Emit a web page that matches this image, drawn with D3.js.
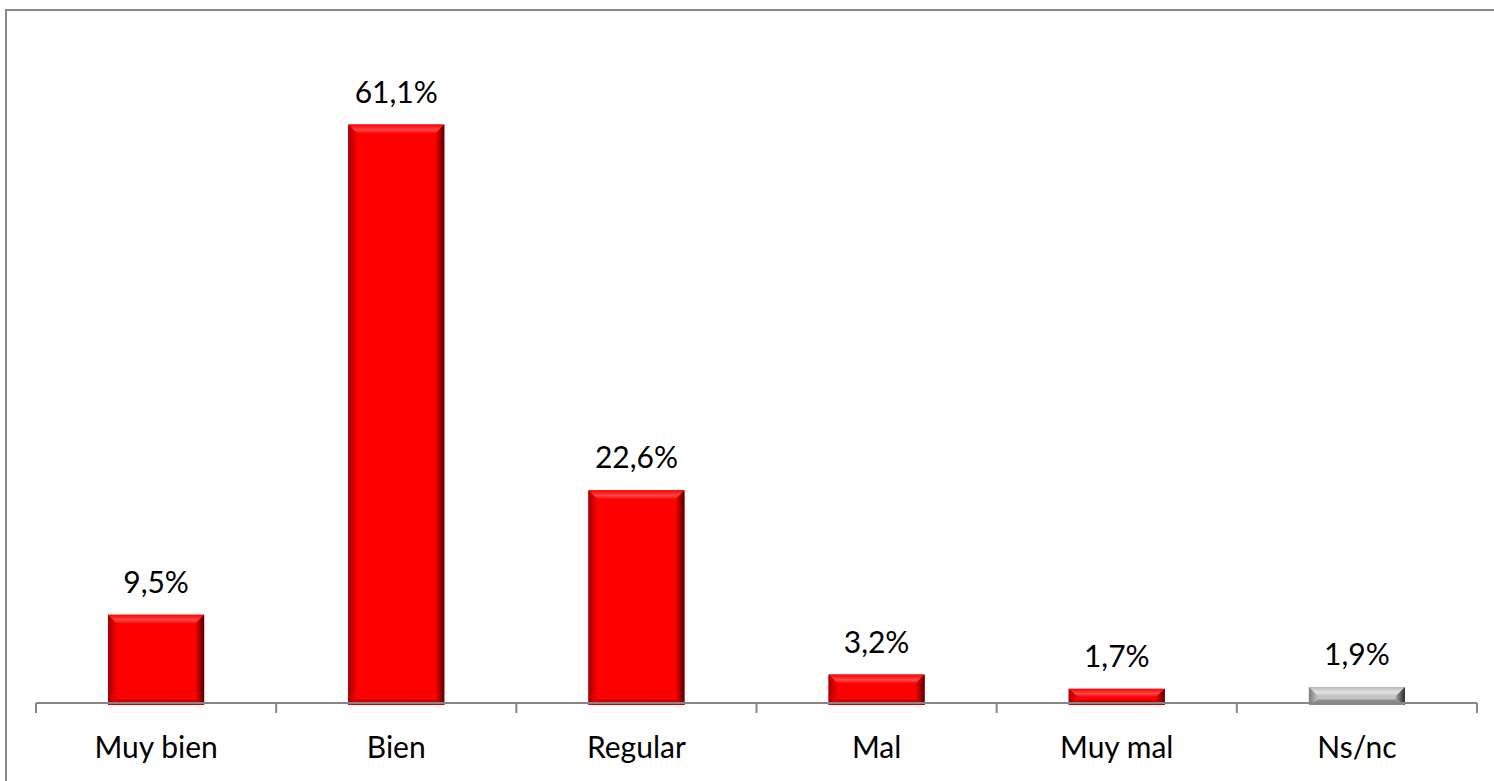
<!DOCTYPE html>
<html>
<head>
<meta charset="utf-8">
<script src="https://cdn.jsdelivr.net/npm/d3@7"></script>
<style>
  html, body { margin: 0; padding: 0; background: #fff; }
  svg { display: block; }
  text { font-family: Lato, "Open Sans", sans-serif; fill: #000; }
</style>
</head>
<body>
<svg id="chart" width="1494" height="781"></svg>
<script>
// Survey answers and their shares (%)
const categories = ["Muy bien", "Bien", "Regular", "Mal", "Muy mal", "Ns/nc"];
const values = [9.5, 61.1, 22.6, 3.2, 1.7, 1.9];
const valueLabels = ["9,5%", "61,1%", "22,6%", "3,2%", "1,7%", "1,9%"];
const yDomain = [0, 70];

const svg = d3.select("#chart");
const W = 1494, H = 781;

// outer frame, running off the right and bottom edges
svg.append("rect")
  .attr("x", 6).attr("y", 10)
  .attr("width", W + 20).attr("height", H + 20)
  .attr("fill", "#fff")
  .attr("stroke", "#8a8a8a").attr("stroke-width", 2);

const x = d3.scaleBand()
  .domain(categories)
  .range([36, 1477])
  .paddingInner(0.6)
  .paddingOuter(0.3);

const y = d3.scaleLinear().domain(yDomain).range([705, 40]);

// colour schemes for the bevelled bars
const palettes = {
  red:  { base: "#ff0000", left0: "#a00000", left1: "#ff0000", right0: "#ff0000", right1: "#500000",
          top0: "#ff0000", topMid: "#ff4848", bottom: "#cc0000" },
  gray: { base: "#c4c4c4", left0: "#7a7a7a", left1: "#c4c4c4", right0: "#a0a0a0", right1: "#2a2a2a",
          top0: "#b8b8b8", topMid: "#e4e4e4", bottom: "#8c8c8c" }
};

const defs = svg.append("defs");
Object.entries(palettes).forEach(([k, p]) => {
  const gl = defs.append("linearGradient").attr("id", "gl-" + k).attr("x1", 0).attr("x2", 1).attr("y1", 0).attr("y2", 0);
  gl.append("stop").attr("offset", 0).attr("stop-color", p.left0);
  gl.append("stop").attr("offset", 1).attr("stop-color", p.left1);
  const gr = defs.append("linearGradient").attr("id", "gr-" + k).attr("x1", 0).attr("x2", 1).attr("y1", 0).attr("y2", 0);
  gr.append("stop").attr("offset", 0).attr("stop-color", p.right0);
  gr.append("stop").attr("offset", 1).attr("stop-color", p.right1);
  const gt = defs.append("linearGradient").attr("id", "gt-" + k).attr("x1", 0).attr("x2", 0).attr("y1", 0).attr("y2", 1);
  gt.append("stop").attr("offset", 0).attr("stop-color", p.top0);
  gt.append("stop").attr("offset", 0.6).attr("stop-color", p.topMid);
  gt.append("stop").attr("offset", 1).attr("stop-color", p.base);
});

const data = categories.map((c, i) => ({ c, v: values[i], label: valueLabels[i], pal: c === "Ns/nc" ? "gray" : "red" }));

const bars = svg.append("g").selectAll("g").data(data).join("g");

bars.each(function(d) {
  const g = d3.select(this);
  const p = palettes[d.pal];
  const x0 = x(d.c), x1 = x0 + x.bandwidth();
  const y0 = y(d.v), y1 = y(0);
  const h = y1 - y0;
  const bx = Math.min(9, x.bandwidth() / 2);
  const by = Math.min(9, h / 2);
  g.append("rect").attr("x", x0).attr("y", y0).attr("width", x1 - x0).attr("height", h).attr("fill", p.base);
  // top face
  g.append("polygon")
    .attr("points", [[x0, y0], [x1, y0], [x1 - bx, y0 + by], [x0 + bx, y0 + by]].join(" "))
    .attr("fill", `url(#gt-${d.pal})`);
  // bottom face
  g.append("polygon")
    .attr("points", [[x0, y1], [x1, y1], [x1 - bx, y1 - by * 0.6], [x0 + bx, y1 - by * 0.6]].join(" "))
    .attr("fill", p.bottom);
  // left face
  g.append("polygon")
    .attr("points", [[x0, y0], [x0 + bx, y0 + by], [x0 + bx, y1 - by * 0.6], [x0, y1]].join(" "))
    .attr("fill", `url(#gl-${d.pal})`);
  // right face
  g.append("polygon")
    .attr("points", [[x1, y0], [x1 - bx, y0 + by], [x1 - bx, y1 - by * 0.6], [x1, y1]].join(" "))
    .attr("fill", `url(#gr-${d.pal})`);
});

// value labels
svg.append("g").selectAll("text").data(data).join("text")
  .attr("x", d => x(d.c) + x.bandwidth() / 2)
  .attr("y", d => y(d.v) - 22)
  .attr("text-anchor", "middle")
  .attr("font-size", 30)
  .text(d => d.label);

// category axis with ticks at the band boundaries
const step = x.step();
const axisY = 703;
const axisG = svg.append("g");
axisG.append("line")
  .attr("x1", 36).attr("x2", 1477).attr("y1", axisY).attr("y2", axisY)
  .attr("stroke", "#868686").attr("stroke-width", 2);
axisG.selectAll("line.tick").data(d3.range(categories.length + 1)).join("line")
  .attr("class", "tick")
  .attr("x1", i => 36 + i * step).attr("x2", i => 36 + i * step)
  .attr("y1", axisY).attr("y2", axisY + 10)
  .attr("stroke", "#868686").attr("stroke-width", 2);
axisG.selectAll("text").data(categories).join("text")
  .attr("x", c => x(c) + x.bandwidth() / 2)
  .attr("y", 758)
  .attr("text-anchor", "middle")
  .attr("font-size", 30)
  .text(c => c);
</script>
</body>
</html>
